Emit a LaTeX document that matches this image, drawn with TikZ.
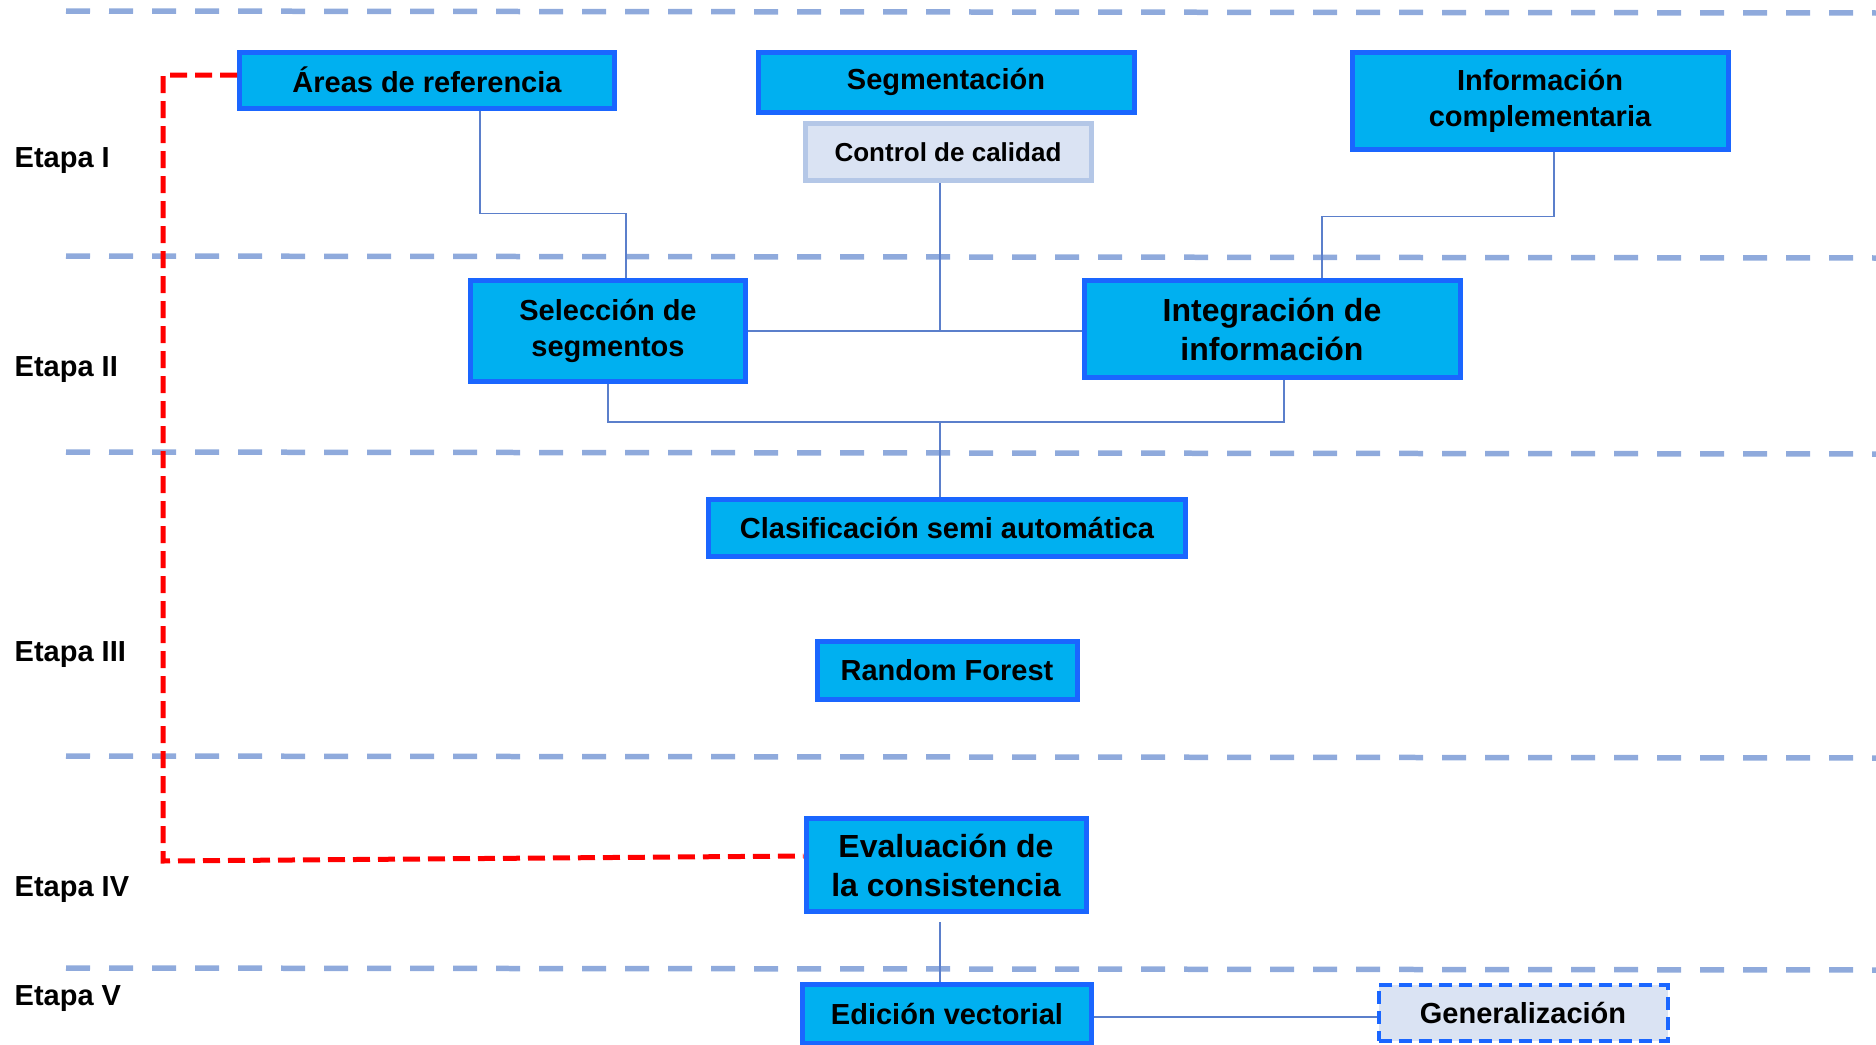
\documentclass[tikz,border=0pt]{standalone}
\usepackage{fontspec}
\setmainfont{Liberation Sans}
\definecolor{boxfill}{HTML}{00B0F0}
\definecolor{boxline}{HTML}{1A66FF}
\definecolor{softfill}{HTML}{DAE3F3}
\definecolor{softline}{HTML}{B4C7E7}
\definecolor{linkblue}{HTML}{5B7FCB}
\definecolor{stageblue}{HTML}{8FAADC}
\tikzset{
  procbox/.style={draw=boxline, fill=boxfill, line width=0.05cm, inner sep=0pt,
    align=center, font=\bfseries\fontsize{8.25}{10.2}\selectfont},
  softbox/.style={procbox, draw=softline, fill=softfill, font=\bfseries\fontsize{7.4}{9}\selectfont},
  dashbox/.style={procbox, fill=softfill, line width=0.04cm, dash pattern=on 0.13cm off 0.07cm},
  bigtext/.style={font=\bfseries\fontsize{9.1}{11.1}\selectfont},
  link/.style={draw=linkblue, line width=0.45pt},
  stageline/.style={draw=stageblue, line width=0.055cm, dash pattern=on 0.24cm off 0.19cm},
  backline/.style={draw=red, line width=0.05cm, dash pattern=on 0.17cm off 0.08cm},
  stagelabel/.style={anchor=west, inner sep=0pt, font=\bfseries\fontsize{8.25}{10.2}\selectfont}
}
\begin{document}
\begin{tikzpicture}[]
            \useasboundingbox (0,0) rectangle (18.76,-10.45);
            \foreach \y in {0.11,2.56,4.52,7.56,9.68}
                \draw[stageline] (0.66,-\y) -- (18.76,-\y-0.02);
            \node[stagelabel] (etI) at (0.14,-1.61) {Etapa I};
            \node[stagelabel] (etII) at (0.14,-3.70) {Etapa II};
            \node[stagelabel] (etIII) at (0.14,-6.55) {Etapa III};
            \node[stagelabel] (etIV) at (0.14,-8.90) {Etapa IV};
            \node[stagelabel] (etV) at (0.14,-9.99) {Etapa V};
            \node[procbox, minimum width=3.75cm, minimum height=0.56cm] (areas) at (4.27,-0.80) {Áreas de referencia};
            \node[procbox, minimum width=3.76cm, minimum height=0.60cm] (segm) at (9.46,-0.82) {Segmentación};
            \node[softbox, minimum width=2.86cm, minimum height=0.57cm] (control) at (9.48,-1.52) {Control de calidad};
            \node[procbox, minimum width=3.76cm, minimum height=0.96cm] (info) at (15.40,-1.01) {Información\\complementaria};
            \node[procbox, minimum width=2.75cm, minimum height=1.01cm] (selec) at (6.08,-3.31) {Selección de\\segmentos};
            \node[procbox, bigtext, minimum width=3.76cm, minimum height=0.97cm] (integ) at (12.72,-3.29) {Integración de\\información};
            \node[procbox, minimum width=4.77cm, minimum height=0.57cm] (clasif) at (9.47,-5.28) {Clasificación semi automática};
            \node[procbox, minimum width=2.60cm, minimum height=0.58cm] (random) at (9.47,-6.70) {Random Forest};
            \node[procbox, bigtext, minimum width=2.80cm, minimum height=0.93cm] (evalua) at (9.46,-8.65) {Evaluación de\\la consistencia};
            \node[procbox, minimum width=2.89cm, minimum height=0.59cm] (edicion) at (9.47,-10.14) {Edición vectorial};
            \node[dashbox, minimum width=2.89cm, minimum height=0.56cm] (general) at (15.23,-10.13) {Generalización};
            \coordinate (merge) at (9.40,-4.22);
            \coordinate (turn) at (1.63,-8.61);
            \draw[link] ([xshift=5.3mm]areas.south) -- ++(0,-1.03) -| ([xshift=1.8mm]selec.north);
            \draw[link] ([xshift=1.4mm]info.south) -- ++(0,-0.65) -| ([xshift=5mm]integ.north);
            \draw[link] (selec.east) -- (selec.east -| integ.west);
            \draw[link] ([xshift=-0.8mm]control.south) -- ([xshift=-0.8mm]control.south |- selec.east);
            \draw[link] (selec.south) -- (selec.south |- merge) -| ([xshift=1.2mm]integ.south);
            \draw[link] (merge) -- (merge |- clasif.north);
            \draw[link, shorten <=0.8mm] ([xshift=-0.6mm]evalua.south) -- ([xshift=-0.6mm]evalua.south |- edicion.north);
            \draw[link] ([yshift=-0.3mm]edicion.east) -- ([yshift=-0.3mm]edicion.east -| general.west);
            \draw[backline] ([yshift=0.5mm]areas.west) -| (turn) -- ([yshift=0.9mm]evalua.west);
        \end{tikzpicture}
\end{document}
